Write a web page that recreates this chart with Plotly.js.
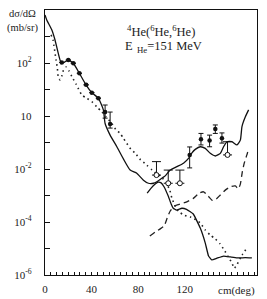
<!DOCTYPE html>
<html>
<head>
<meta charset="utf-8">
<script src="https://cdn.plot.ly/plotly-3.0.1.min.js"></script>
<style>html,body{margin:0;padding:0;background:#fff;}#chart{width:267px;height:299px;}</style>
</head>
<body>
<div id="chart"></div>
<script>
// Angles in degrees (c.m.), cross sections in mb/sr
const solidX = [0, 1.5, 5.8, 8.6, 11.4, 13.5, 15.7, 20.0, 24.3, 29.5, 35.2, 40.2, 45.8, 50.1, 51.6, 55.9, 61.7, 67.3, 73.1, 78.8, 84.5, 88.8, 93.1, 96.0, 100.3, 103.2, 107.5, 113.2, 118.9, 123.2, 126.0, 129.0, 133.3, 137.6, 141.9, 146.2, 150.5, 153.3, 156.2, 160.5, 164.8, 167.7, 169.1, 172.0, 174.8];
const solidY = [6500, 4200, 1800, 740, 230, 112, 102, 129, 98, 41, 15, 7.6, 4.7, 1.7, 0.52, 0.19, 0.069, 0.024, 0.0091, 0.0069, 0.0038, 0.0029, 0.0029, 0.0033, 0.0045, 0.0055, 0.0091, 0.0123, 0.0166, 0.025, 0.040, 0.055, 0.069, 0.060, 0.039, 0.031, 0.039, 0.069, 0.107, 0.107, 0.081, 0.123, 0.40, 0.93, 1.7];

const solid2X = [87.7, 91.1, 94.6, 97.2, 99.7, 102.3, 105.8, 108.3, 110.1, 112.9, 117.5, 121.5, 127.3, 133.3, 137.6, 140.4, 143.2, 147.6, 153.3, 159.1, 164.8, 171.9, 177.6];
const solid2Y = [0.00123, 0.0019, 0.0027, 0.0032, 0.0030, 0.0021, 0.00095, 0.00048, 0.00033, 0.00028, 0.00033, 0.00030, 0.00020, 5.9e-5, 1.6e-5, 5.2e-6, 3.7e-6, 4.3e-6, 5.2e-6, 4.8e-6, 4.4e-6, 4.5e-6, 4.4e-6];

const dotX = [5.2, 6.9, 7.7, 8.6, 9.5, 10.6, 11.4, 12.9, 14.4, 15.9, 18.1, 20.6, 23.2, 26.7, 31.6, 35.9, 40.2, 44.5, 48.8, 52.5, 57.4, 61.0, 64.5, 67.3, 70.2, 73.7, 77.4, 81.3, 87.3, 92.0, 96.3, 100.0, 104.0, 107.1, 108.9, 111.3, 114.6, 119.5, 124.7, 127.3, 133.3, 137.6, 141.9, 146.2, 150.0, 153.9, 157.4, 160.5, 162.5, 165.1, 169.1, 173.4];
const dotY = [1150, 740, 440, 240, 129, 65, 30, 23, 32, 55, 71, 50, 30, 16, 6.2, 4.7, 3.5, 2.2, 1.45, 0.91, 0.52, 0.30, 0.22, 0.145, 0.093, 0.056, 0.040, 0.024, 0.0141, 0.0091, 0.0065, 0.0050, 0.0030, 0.00162, 0.00081, 0.00044, 0.00025, 0.000182, 0.000155, 0.000141, 9.1e-5, 5.0e-5, 3.2e-5, 2.3e-5, 1.55e-5, 8.7e-6, 4.8e-6, 2.8e-6, 1.8e-6, 2.6e-6, 5.6e-6, 1.05e-5];

const dashX = [90.0, 94.6, 98.9, 102.3, 104.9, 107.5, 110.9, 116.1, 121.2, 127.3, 132.4, 136.1, 140.1, 143.6, 147.0, 150.5, 155.6, 159.9, 163.4, 165.9, 167.7, 169.4, 171.1, 173.3, 174.5];
const dashY = [2.95e-5, 4.2e-5, 5.5e-5, 7.1e-5, 0.000141, 0.00026, 0.00040, 0.00048, 0.00056, 0.00078, 0.00123, 0.00138, 0.00095, 0.00065, 0.00074, 0.00105, 0.0017, 0.0022, 0.0023, 0.0018, 0.0027, 0.0078, 0.017, 0.034, 0.052];

// Measured points with error bars
const dataX = [14.4, 20.0, 24.3, 29.5, 35.3, 40.2, 45.8, 51.6, 55.9, 124.2, 133.9, 141.3, 146.2, 151.9];
const dataY = [105, 129, 98, 41, 15, 7.6, 4.7, 1.41, 0.50, 0.034, 0.132, 0.12, 0.32, 0.145];
const dataHi = [105, 129, 98, 41, 15, 7.6, 4.7, 2.6, 1.41, 0.068, 0.22, 0.19, 0.46, 0.23];
const dataLo = [105, 129, 98, 41, 15, 7.6, 4.7, 0.83, 0.35, 0.011, 0.081, 0.069, 0.22, 0.095];

// Upper-limit points (open circles)
const limX = [95.7, 105.8, 115.8, 156.7];
const limY = [0.0059, 0.0029, 0.0029, 0.034];
const limTop = [0.019, 0.0091, 0.0091, 0.107];

const yTickVals = [1e2, 1, 1e-2, 1e-4, 1e-6];
const yTickText = ['10<sup>2</sup>', '10', '10<sup>-2</sup>', '10<sup>-4</sup>', '10<sup>-6</sup>'];
const xTickVals = [0, 40, 80, 120];
const xTickText = ['0', '40', '80', '120'];

const FONT = 'Liberation Serif, DejaVu Serif, serif';

const traces = [
  {x: solidX, y: solidY, mode: 'lines', line: {color: '#111', width: 1.3, shape: 'spline', smoothing: 0.5}, hoverinfo: 'skip'},
  {x: solid2X, y: solid2Y, mode: 'lines', line: {color: '#111', width: 1.3, shape: 'spline', smoothing: 0.3}, hoverinfo: 'skip'},
  {x: dotX, y: dotY, mode: 'lines', line: {color: '#222', width: 1.6, dash: '1.5px,3.5px', shape: 'spline', smoothing: 0.5}, hoverinfo: 'skip'},
  {x: dashX, y: dashY, mode: 'lines', line: {color: '#222', width: 1.3, dash: '6px,4px', shape: 'spline', smoothing: 0.5}, hoverinfo: 'skip'},
  {x: dataX, y: dataY, mode: 'markers', marker: {color: '#111', size: 4.5, symbol: 'circle'},
   error_y: {type: 'data', symmetric: false,
     array: dataY.map((v, i) => dataHi[i] - v),
     arrayminus: dataY.map((v, i) => v - dataLo[i]),
     color: '#111', thickness: 1, width: 2.5}},
  {x: limX, y: limY, mode: 'markers', marker: {color: '#fff', size: 5, symbol: 'circle', line: {color: '#111', width: 1}},
   error_y: {type: 'data', symmetric: false,
     array: limY.map((v, i) => limTop[i] - v),
     arrayminus: limY.map(() => 0),
     color: '#111', thickness: 1, width: 4.5}}
];

const layout = {
  width: 267, height: 299,
  margin: {l: 45, r: 10, t: 10, b: 24},
  paper_bgcolor: '#fff', plot_bgcolor: '#fff',
  showlegend: false,
  font: {family: FONT, size: 11, color: '#222'},
  xaxis: {
    range: [0, 182], showgrid: false, zeroline: false,
    showline: true, linecolor: '#111', linewidth: 1.2, mirror: true,
    ticks: 'inside', ticklen: 3, tickwidth: 1, tickcolor: '#111',
    tickvals: xTickVals, ticktext: xTickText,
    minor: {dtick: 5, ticks: 'inside', ticklen: 3, tickwidth: 1, tickcolor: '#111', showgrid: false},
    ticklabelstandoff: 4,
    tickfont: {family: FONT, size: 11, color: '#222'}
  },
  yaxis: {
    type: 'log', range: [-6, 4], showgrid: false, zeroline: false,
    showline: true, linecolor: '#111', linewidth: 1.2, mirror: true,
    ticks: 'inside', ticklen: 5, tickwidth: 1, tickcolor: '#111',
    tickvals: yTickVals, ticktext: yTickText,
    minor: {tickvals: [1e3, 10, 1e-1, 1e-3, 1e-5], ticks: 'inside', ticklen: 5, tickwidth: 1, tickcolor: '#111', showgrid: false},
    ticklabelstandoff: 10,
    tickfont: {family: FONT, size: 11, color: '#222'}
  },
  annotations: [
    {xref: 'paper', yref: 'paper', x: -0.108, y: 1.015, xanchor: 'center', yanchor: 'top', showarrow: false,
     text: 'dσ/dΩ<br>(mb/sr)', font: {family: FONT, size: 10.5, color: '#222'}},
    {xref: 'paper', yref: 'paper', x: 0.378, y: 0.921, xanchor: 'left', yanchor: 'middle', showarrow: false,
     text: '<sup>4</sup>He(<sup>6</sup>He,<sup>6</sup>He)', font: {family: FONT, size: 12.5, color: '#222'}},
    {xref: 'paper', yref: 'paper', x: 0.37, y: 0.862, xanchor: 'left', yanchor: 'middle', showarrow: false,
     text: 'E<sub>  He</sub>=151 MeV', font: {family: FONT, size: 12.5, color: '#222'}},
    {xref: 'paper', yref: 'paper', x: 1, y: -0.057, xanchor: 'right', yanchor: 'middle', showarrow: false,
     text: 'cm(deg)', font: {family: FONT, size: 11, color: '#222'}}
  ]
};

Plotly.newPlot('chart', traces, layout, {staticPlot: true, displayModeBar: false});
</script>
</body>
</html>
